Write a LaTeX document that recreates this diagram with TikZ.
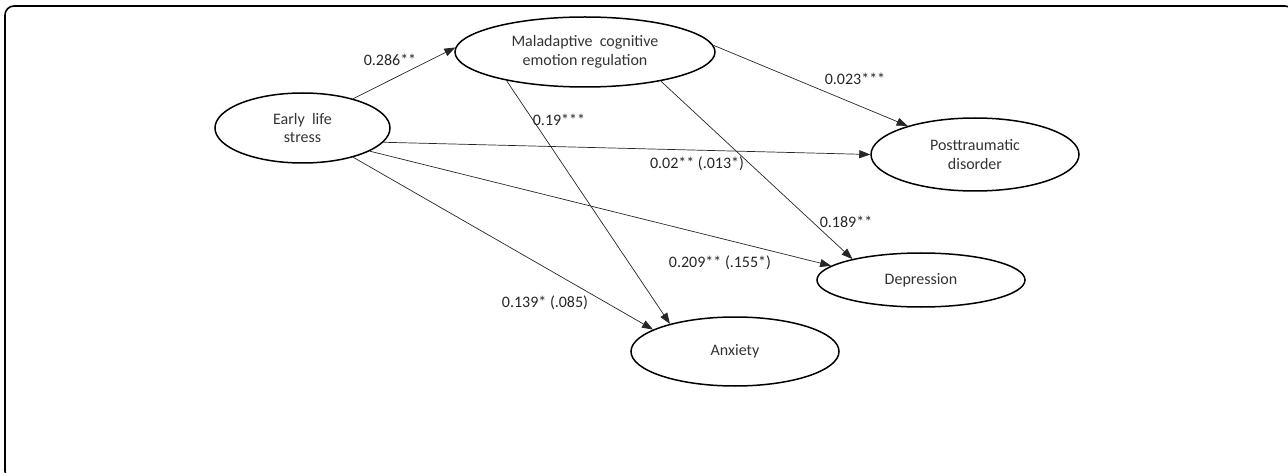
\documentclass[tikz,border=0pt]{standalone}
\usepackage{fontspec}
\setmainfont{Carlito}
\usetikzlibrary{shapes.geometric,arrows.meta}

\tikzset{
  var/.style={ellipse, draw, line width=1.5pt, inner sep=0pt, align=center,
    text=black!80, font=\fontsize{16}{18.5}\selectfont},
  effect/.style={-{Triangle[length=11pt,width=8pt]}, line width=0.7pt, black!85},
  coef/.style={inner sep=0pt, text=black!85, font=\fontsize{16}{18.5}\selectfont}
}

\begin{document}
\begin{tikzpicture}[x=1pt,y=-1pt]
    % page and frame
    \useasboundingbox (0,0) rectangle (1288,473);
    \draw[line width=1.6pt, rounded corners=9pt] (5,6) rectangle (1294,480);

    % variables
    \node[var, minimum width=175, minimum height=70] (els) at (302.5,128) {Early~~life\\stress};
    \node[var, minimum width=260, minimum height=70] (mcer) at (585,52) {Maladaptive~~cognitive\\emotion regulation};
    \node[var, minimum width=208, minimum height=73] (ptsd) at (975,154.5) {Posttraumatic\\disorder};
    \node[var, minimum width=208, minimum height=54] (dep) at (921,280) {Depression};
    \node[var, minimum width=208, minimum height=69] (anx) at (735,351.5) {Anxiety};

    % paths
    \draw[effect] (els.30) -- (mcer.178);
    \draw[effect] (mcer.3) -- (ptsd.157);
    \draw[effect] (mcer.-21) -- (dep.163);
    \draw[effect] (mcer.-160) -- (anx.157);
    \draw[effect] (els.-10) -- (ptsd.180);
    \draw[effect] (els.-19) -- (dep.171);
    \draw[effect] (els.-30) -- (anx.165);

    % coefficients
    \node[coef] (c1) at (390,60) {0.286**};
    \node[coef] (c2) at (855,79) {0.023***};
    \node[coef] (c3) at (559,120) {0.19***};
    \node[coef] (c4) at (697,164) {0.02** (.013*)};
    \node[coef] (c5) at (846,222) {0.189**};
    \node[coef] (c6) at (720,263) {0.209** (.155*)};
    \node[coef] (c7) at (545,303) {0.139* (.085)};
\end{tikzpicture}
\end{document}
